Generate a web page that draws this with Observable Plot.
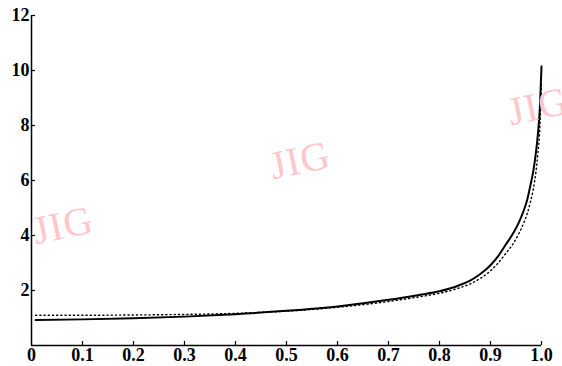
<!DOCTYPE html>
<html><head><meta charset="utf-8">
<script src="https://cdn.jsdelivr.net/npm/d3@7"></script>
<script src="https://cdn.jsdelivr.net/npm/@observablehq/plot@0.6"></script>
<style>
html,body{margin:0;padding:0;background:#fff;}
#wrap{position:relative;width:562px;height:366px;overflow:hidden;}
#wrap svg{position:absolute;left:0;top:0;}
#wrap svg text{font-weight:bold;font-size:18px;font-family:"Liberation Serif",serif;}
.wm{position:absolute;font-family:"Liberation Serif",serif;font-size:40px;color:#ffc6cc;transform:translate(-50%,-50%) rotate(-12deg);white-space:nowrap;pointer-events:none;letter-spacing:1px;}
</style></head><body><div id="wrap"></div>
<script>
const xSolid = [0.008,0.1,0.2,0.3,0.4,0.5,0.6,0.7,0.76,0.8,0.82,0.84,0.86,0.88,0.9,0.915,0.93,0.945,0.955,0.965,0.972,0.978,0.984,0.989,0.993,0.997,1.0];
const ySolid = [0.93,0.95,0.99,1.05,1.14,1.26,1.42,1.66,1.84,1.97,2.07,2.2,2.36,2.6,2.92,3.25,3.67,4.1,4.45,4.9,5.3,5.8,6.35,7.0,7.7,8.7,10.15];
const xDotted = [0.008,0.1,0.2,0.3,0.4,0.5,0.6,0.7,0.76,0.8,0.82,0.84,0.86,0.88,0.9,0.915,0.93,0.945,0.955,0.965,0.972,0.978,0.984,0.989,0.993,0.997,1.0];
const yDotted = [1.1,1.1,1.11,1.13,1.17,1.25,1.39,1.6,1.77,1.9,1.99,2.1,2.24,2.44,2.72,3.0,3.35,3.72,4.05,4.45,4.8,5.2,5.7,6.3,7.0,8.0,9.6];
const xTicks = [0,0.1,0.2,0.3,0.4,0.5,0.6,0.7,0.8,0.9,1.0];
const xTickLabels = ["0","0.1","0.2","0.3","0.4","0.5","0.6","0.7","0.8","0.9","1.0"];
const yTicks = [2,4,6,8,10,12];
const watermarkText = "JIG";

const solid = xSolid.map((x,i)=>({x, y:ySolid[i]}));
const dotted = xDotted.map((x,i)=>({x, y:yDotted[i]}));

const plot = Plot.plot({
  width:562, height:366,
  marginLeft:31, marginRight:21, marginTop:15, marginBottom:21,
  style:{background:"transparent", fontFamily:"'Liberation Serif', serif", fontSize:"18px", color:"#000"},
  x:{domain:[0,1], label:null},
  y:{domain:[0,12], label:null},
  marks:[
    Plot.line(dotted,{x:"x",y:"y",stroke:"#000",strokeWidth:1.4,strokeDasharray:"1.2,3",curve:"monotone-x"}),
    Plot.line(solid,{x:"x",y:"y",stroke:"#000",strokeWidth:2,curve:"monotone-x"}),
    Plot.ruleX([0],{stroke:"#000",strokeWidth:1.5}),
    Plot.ruleY([0],{stroke:"#000",strokeWidth:1.5}),
    Plot.tickX(xTicks.slice(1),{x:d=>d,insetTop:326,stroke:"#000",strokeWidth:1.2}),
    Plot.tickY(yTicks,{y:d=>d,insetRight:506,stroke:"#000",strokeWidth:1.2}),
    Plot.axisX({ticks:xTicks, tickFormat:d=>xTickLabels[xTicks.indexOf(d)], tickSize:0, tickPadding:3, label:null, fontWeight:"bold"}),
    Plot.axisY({ticks:yTicks, tickSize:0, tickPadding:2, label:null, fontWeight:"bold"})
  ]
});
const wrap = document.getElementById("wrap");
wrap.appendChild(plot);
[[63,225],[300,160],[538,106]].forEach(([l,t])=>{
  const d=document.createElement("div");
  d.className="wm"; d.textContent=watermarkText;
  d.style.left=l+"px"; d.style.top=t+"px";
  wrap.appendChild(d);
});
</script></body></html>
